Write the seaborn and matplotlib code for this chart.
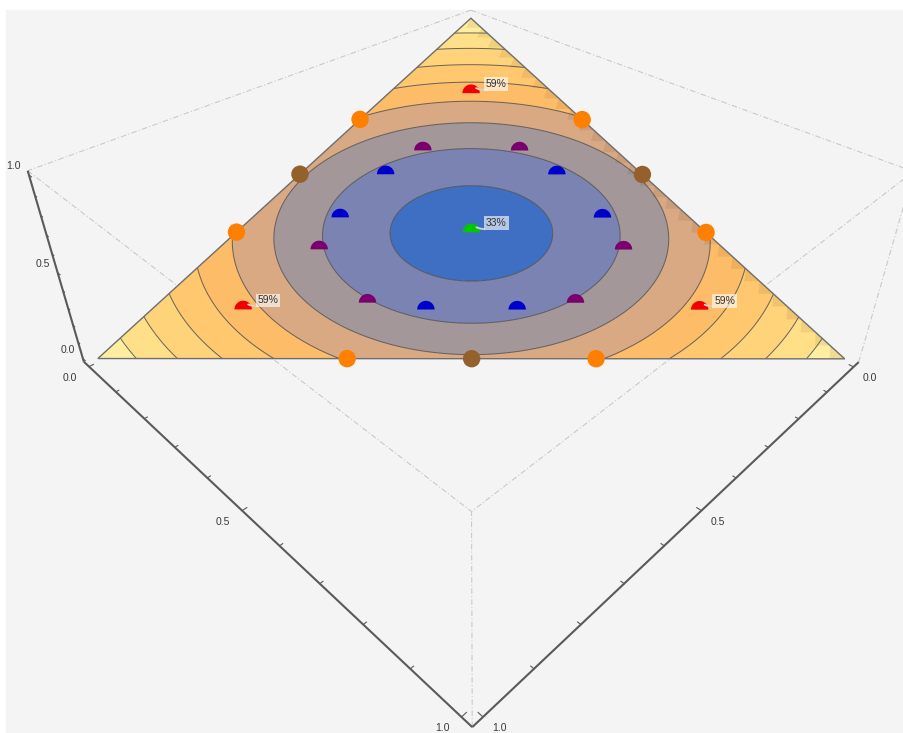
import numpy as np
import matplotlib
matplotlib.use("Agg")
import matplotlib.pyplot as plt
import matplotlib.tri as mtri
from matplotlib.path import Path
from matplotlib.patches import Rectangle, Polygon
import seaborn as sns
import pandas as pd

# ---------------------------------------------------------------------------
# Data: compositions (x, y, z) on the simplex x + y + z = 1 and their groups
# ---------------------------------------------------------------------------
comp_x = [1/3, 2/3, 1/2, 0, 0, 0, 1/3, 2/3, 1/2,
          1/8, 3/8, 1/2, 1/2, 3/8, 1/8,
          1/7, 2/7, 4/7, 4/7, 2/7, 1/7,
          3/4, 1/8, 1/8,
          1/3]
comp_y = [2/3, 1/3, 1/2, 1/3, 2/3, 1/2, 0, 0, 0,
          3/8, 1/8, 1/8, 3/8, 1/2, 1/2,
          2/7, 1/7, 1/7, 2/7, 4/7, 4/7,
          1/8, 3/4, 1/8,
          1/3]
comp_z = [0, 0, 0, 2/3, 1/3, 1/2, 2/3, 1/3, 1/2,
          1/2, 1/2, 3/8, 1/8, 1/8, 3/8,
          4/7, 4/7, 2/7, 1/7, 1/7, 2/7,
          1/8, 1/8, 3/4,
          1/3]
group = (["orange"] * 2 + ["brown"] + ["orange"] * 2 + ["brown"] + ["orange"] * 2 + ["brown"]
         + ["blue"] * 6 + ["purple"] * 6 + ["red"] * 3 + ["green"])
labelled = [False] * 21 + [True] * 4

# contour levels of the concentration index x^2 + y^2 + z^2
contour_levels = [0.36, 0.4225, 0.49, 0.5625, 0.64, 0.7225, 0.81, 0.9025]
band_colors = ['#3F6FC3', '#7A83B1', '#A4979A', '#D8A983', '#FDBC68',
               '#FFC76E', '#FFD37A', '#FFE088', '#FFEEA0']
point_colors = {"orange": "#FF7F00", "brown": "#94602B", "blue": "#0000CC",
                "purple": "#7A006E", "red": "#F00000", "green": "#00C800"}
axis_ticks = [0.0, 0.5, 1.0]

# ---------------------------------------------------------------------------
# Perspective camera (pixel units of the output image)
# ---------------------------------------------------------------------------
EYE = np.array([1.5379, 1.5362, 3.0990])
ROT = np.array([[0.7083, -0.7059, 0.0050],
                [0.1957, 0.1895, -0.9622],
                [-0.6782, -0.6825, -0.2724]])
INTR = np.array([[1191.0, 6.536, 474.3],
                 [0.0, 559.1, -281.5],
                 [0.0, 0.0, 1.0]])
CAMERA = INTR @ np.c_[ROT, -ROT @ EYE]


def proj(X):
    X = np.atleast_2d(np.asarray(X, float))
    h = CAMERA @ np.c_[X, np.ones(len(X))].T
    return h[0] / h[2], h[1] / h[2]


W, H = 904, 733
fig = plt.figure(figsize=(W / 100, H / 100), dpi=100)
ax = fig.add_axes([0, 0, 1, 1])
ax.add_patch(Rectangle((6, 10), W, H, color='#F4F4F4', zorder=0))

# ---------------------------------------------------------------------------
# Bounding box: dashed hidden edges, solid axes with ticks
# ---------------------------------------------------------------------------
pad = 0.02
lo, hi = -pad, 1 + pad
dash_kw = dict(color='#CACACA', lw=0.8, dashes=(5, 2, 1, 2), zorder=1)
for edge in [
        [(hi, hi, lo), (hi, hi, hi)],
        [(hi, lo, lo), (hi, lo, hi)],
        [(lo, hi, hi), (hi, hi, hi)],
        [(hi, lo, hi), (hi, hi, hi)],
        [(lo, lo, hi), (lo, hi, hi)],
        [(lo, lo, hi), (hi, lo, hi)]]:
    eu, ev = proj(edge)
    ax.plot(eu, ev, **dash_kw)

axis_kw = dict(color='#5A5A5A', lw=1.5, solid_capstyle='butt', zorder=1.2)
axes_def = {
    'x': (lambda t: (t, hi, lo), np.array([0, -1, 0.0]), (-19, 11)),
    'y': (lambda t: (hi, t, lo), np.array([-1, 0, 0.0]), (16, 11)),
    'z': (lambda t: (lo, hi, t), np.array([1, 0, 0.0]), (-15, -9)),
}
for name, (pt, tdir, off) in axes_def.items():
    au, av = proj([pt(lo), pt(hi)])
    ax.plot(au, av, **axis_kw)
    for k in range(11):
        base = np.array(pt(k / 10))
        length = 0.009 if k % 5 == 0 else 0.006
        tu, tv = proj([base, base + tdir * length])
        ax.plot(tu, tv, color='#5A5A5A', lw=0.8, zorder=1.2)
    for t in axis_ticks:
        bu, bv = proj(pt(t))
        ax.text(bu[0] + off[0], bv[0] + off[1], f"{t:.1f}", fontsize=7.5,
                family='Liberation Sans', color='#3A3A3A', ha='center', va='center')

# ---------------------------------------------------------------------------
# Contour surface on the simplex
# ---------------------------------------------------------------------------
n = 160
grid = np.array([(i / n, j / n, 1 - i / n - j / n)
                 for i in range(n + 1) for j in range(n + 1 - i)])
gu, gv = proj(grid)
tri = mtri.Triangulation(gu, gv)
field = (grid ** 2).sum(1)
ax.tricontourf(tri, field, levels=[0.0] + contour_levels + [1.01],
               colors=band_colors, zorder=2, antialiased=True)
ax.tricontour(tri, field, levels=contour_levels, colors='#4D4D4D',
              linewidths=0.7, alpha=0.85, zorder=3)
corner_u, corner_v = proj([(1, 0, 0), (0, 0, 1), (0, 1, 0)])
outline = Polygon(np.c_[corner_u, corner_v], closed=True, fill=False,
                  ec='#6E6E6E', lw=1.0, zorder=3.5)
ax.add_patch(outline)

# shading strip of the rendered mesh along the right-hand edge
clip_tri = Polygon(np.c_[corner_u, corner_v], closed=True, transform=ax.transData)
steps = np.linspace(0, 1, 31)
eu, ev = proj(np.c_[steps, np.zeros_like(steps), 1 - steps])
for k in range(len(steps) - 1):
    shade = Polygon([(eu[k], ev[k]), (eu[k + 1], ev[k + 1]), (eu[k + 1] - 15, ev[k + 1])],
                    closed=True, fc='#5A3000', ec='none', alpha=0.09, zorder=2.5)
    ax.add_patch(shade)
    shade.set_clip_path(clip_tri)

# ---------------------------------------------------------------------------
# Composition points: interior ones half hidden by the surface
# ---------------------------------------------------------------------------
pu, pv = proj(np.c_[comp_x, comp_y, comp_z])
pts = pd.DataFrame({"u": pu, "v": pv, "group": group, "labelled": labelled,
                    "x": comp_x, "y": comp_y, "z": comp_z})
pts["index"] = pts["x"] ** 2 + pts["y"] ** 2 + pts["z"] ** 2
pts["edge"] = (pts[["x", "y", "z"]] == 0).any(axis=1)

theta = np.linspace(0, np.pi, 40)
half_disc = Path(np.r_[np.c_[np.cos(theta), np.sin(theta)], [[1, 0]]], closed=True)
size = 157

sns.scatterplot(data=pts[pts["edge"]], x="u", y="v", hue="group",
                palette=point_colors, marker='o', s=size, linewidth=0,
                legend=False, ax=ax, zorder=5)
sns.scatterplot(data=pts[~pts["edge"]], x="u", y="v", hue="group", palette=point_colors,
                marker=half_disc, s=size, linewidth=0, legend=False, ax=ax, zorder=6)

for _, r in pts[pts["labelled"]].iterrows():
    ax.annotate(f"{100 * r['index']:.0f}%", xy=(r.u + 5, r.v - 5),
                xytext=(r.u + 25, r.v - 9), textcoords='data',
                fontsize=7.5, family='Liberation Sans', color='#333333',
                ha='center', va='center', zorder=8,
                bbox=dict(boxstyle='square,pad=0.18', fc='white', ec='none', alpha=0.62),
                arrowprops=dict(arrowstyle='-', color='#D2D2D2', lw=1.3,
                                connectionstyle='arc3,rad=-0.35',
                                shrinkA=0, shrinkB=0))

ax.set_xlim(0, W)
ax.set_ylim(H, 0)
ax.axis('off')
fig.savefig('out.png', dpi=100, facecolor='white')
